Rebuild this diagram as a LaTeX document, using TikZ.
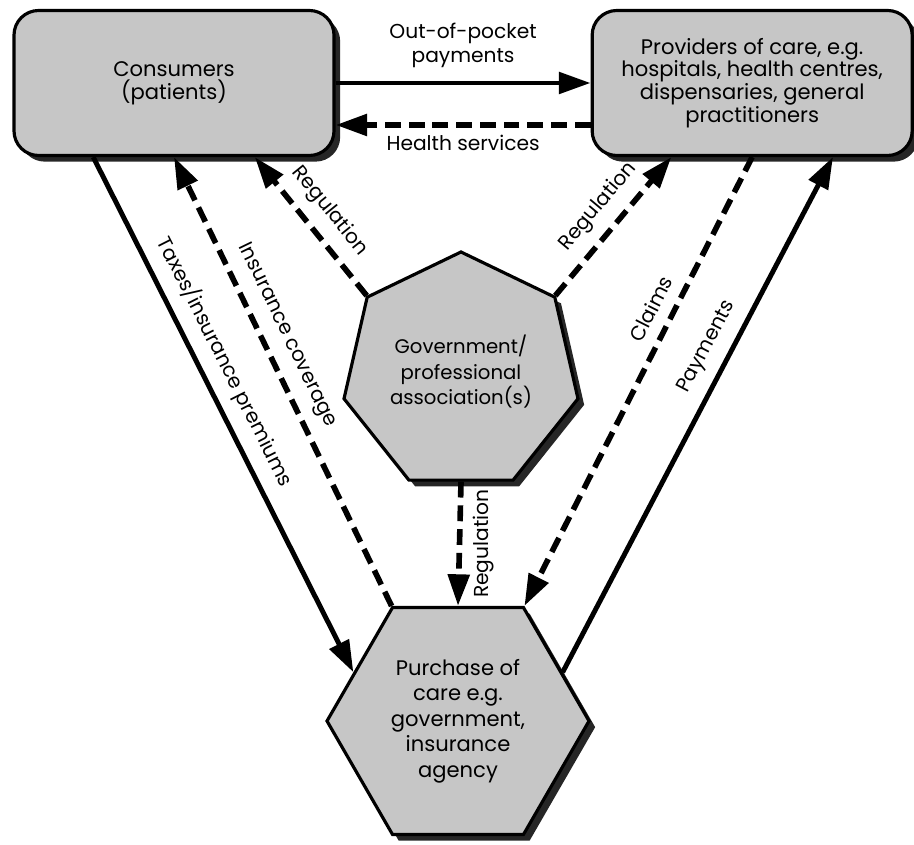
\documentclass[tikz,border=0pt]{standalone}
\usepackage{fontspec}
\setmainfont{Poppins}
\usetikzlibrary{arrows.meta, positioning, shapes.geometric, shadows, calc}

\begin{document}
\begin{tikzpicture}[
    % Global styles
    font=\fontsize{11.5}{13.5}\selectfont,
    >={Triangle[length=18pt, width=12pt]},
    % Box styles
    partybox/.style={
      rectangle, rounded corners=14pt, draw=black, fill=gray!45,
      minimum width=6.4cm, minimum height=2.9cm,
      align=center, line width=1.8pt, font=\fontsize{12}{13}\selectfont,
      drop shadow={shadow xshift=3.5pt, shadow yshift=-3.5pt, fill=black, opacity=0.85}
    },
    polybox/.style={
      regular polygon, regular polygon sides=#1, draw=black, fill=gray!45,
      align=center, line width=1.8pt, inner sep=1pt,
      drop shadow={shadow xshift=3.5pt, shadow yshift=-3.5pt, fill=black, opacity=0.85}
    },
    lbl/.style={sloped, above=3pt},
    arr/.style={->, line width=2.8pt},
    darr/.style={->, line width=3.2pt, dash pattern=on 9pt off 4.5pt},
  ]

  \useasboundingbox (0,0) rectangle (18.28,-16.9);

  % Actors
  \node[partybox] (cons) at (3.48,-1.66) {Consumers\\(patients)};
  \node[partybox, right=5.1cm of cons] (prov) {Providers of care, e.g.\\hospitals, health centres,\\dispensaries, general\\practitioners};

  \node[polybox=7, minimum size=4.8cm, font=\fontsize{11.2}{14.5}\selectfont] (gov) at (9.22,-7.44) {Government/\\professional\\association(s)};
  \node[polybox=6, minimum size=5.24cm, font=\fontsize{12}{14.5}\selectfont] (pur) at (9.16,-14.42) {Purchase of\\care e.g.\\government,\\insurance\\agency};

  % Top flows
  \draw[arr] (cons) -- (prov) node[midway, above=4pt, align=center] (oop) {Out-of-pocket\\payments};
  \draw[darr] ([yshift=-0.84cm]prov.west) -- ([yshift=-0.84cm]cons.east) node[midway, below=1pt] (hserv) {Health services};

  % Consumer side
  \draw[arr] ($(cons.south west)!0.25!(cons.south east)$) -- (pur.155) node[pos=0.42, lbl] (tax) {Taxes/insurance premiums};
  \draw[darr] (pur.120) -- ($(cons.south west)!0.5!(cons.south east)$) node[pos=0.58, lbl] (cover) {Insurance coverage};
  \draw[darr] (gov.141) -- ($(cons.south west)!0.75!(cons.south east)$) node[midway, lbl] (regcons) {Regulation};

  % Provider side
  \draw[darr] (gov.39) -- ($(prov.south west)!0.25!(prov.south east)$) node[pos=0.53, lbl] (regprov) {Regulation};
  \draw[darr] ($(prov.south west)!0.5!(prov.south east)$) -- (pur.60) node[pos=0.36, lbl] (claims) {Claims};
  \draw[arr] (pur.25) -- ($(prov.south west)!0.75!(prov.south east)$) node[pos=0.61, lbl] (pay) {Payments};

  % Government to purchaser
  \draw[darr] (gov.south) -- (pur.north) node[midway, rotate=90, anchor=north, inner sep=6pt] (regpur) {Regulation};

\end{tikzpicture}
\end{document}
